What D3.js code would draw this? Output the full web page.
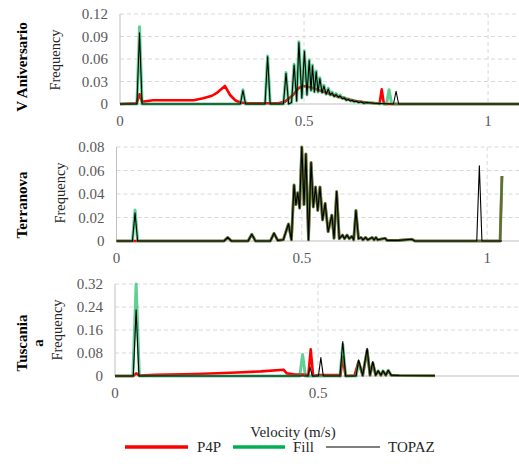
<!DOCTYPE html>
<html>
<head>
<meta charset="utf-8">
<script src="https://cdn.jsdelivr.net/npm/d3@7"></script>
</head>
<body style="margin:0;background:#fff">
<svg id="chart" width="519" height="464" font-family="Liberation Serif"></svg>
<script>
// ---- data: [velocity (m/s), frequency] ----
const seriesNames = ["P4P", "Fill", "TOPAZ"];
const rowNames = [["V Aniversario"], ["Terranova"], ["Tuscania", "a"]];

const vaYTicks = [0, 0.03, 0.06, 0.09, 0.12];
const trYTicks = [0, 0.02, 0.04, 0.06, 0.08];
const tuYTicks = [0, 0.08, 0.16, 0.24, 0.32];
const xTicks = [0, 0.5, 1];

const vaP4P = [[0,0],[0.045,0.001],[0.053,0.013],[0.06,0.003],[0.09,0.005],[0.15,0.005],[0.2,0.005],
  [0.226,0.0076],[0.25,0.011],[0.263,0.0147],[0.285,0.024],[0.299,0.012],[0.313,0.005],[0.326,0.002],
  [0.35,0.001],[0.43,0.001],[0.448,0.003],[0.47,0.012],[0.485,0.021],[0.497,0.024],[0.52,0.022],
  [0.549,0.017],[0.593,0.0098],[0.639,0.004],[0.674,0.0017],[0.7,0.001],[0.705,0],[0.711,0.0195],
  [0.717,0],[1.084,0]];
const vaFill = [[0,0],[0.046,0],[0.053,0.103],[0.06,0],[0.327,0],[0.334,0.019],[0.341,0],[0.394,0],
  [0.401,0.064],[0.408,0],[0.444,0],[0.451,0.042],[0.458,0],[0.466,0.002],[0.473,0.053],[0.48,0.004],
  [0.486,0.083],[0.494,0.008],[0.501,0.071],[0.508,0.012],[0.514,0.059],[0.519,0.018],[0.523,0.052],[0.528,0.016],
  [0.533,0.044],[0.538,0.016],[0.543,0.035],[0.549,0.015],[0.554,0.025],[0.56,0.013],[0.566,0.021],[0.571,0.012],
  [0.576,0.016],[0.582,0.01],[0.587,0.014],[0.593,0.009],[0.598,0.012],[0.604,0.007],[0.609,0.009],
  [0.615,0.005],[0.62,0.0067],[0.626,0.004],[0.631,0.005],[0.636,0.003],[0.641,0.004],[0.648,0.002],
  [0.655,0.003],[0.662,0.001],[0.67,0.002],[0.69,0.001],[0.724,0],[0.731,0.019],[0.738,0],[1.084,0]];
const vaTopaz = [[0,0],[0.046,0],[0.053,0.095],[0.06,0],[0.327,0],[0.334,0.018],[0.341,0],[0.394,0],
  [0.401,0.063],[0.408,0],[0.444,0],[0.451,0.041],[0.458,0],[0.466,0.002],[0.473,0.052],[0.48,0.004],
  [0.486,0.082],[0.494,0.008],[0.501,0.07],[0.508,0.012],[0.514,0.058],[0.519,0.018],[0.523,0.051],[0.528,0.016],
  [0.533,0.043],[0.538,0.016],[0.543,0.034],[0.549,0.015],[0.554,0.024],[0.56,0.013],[0.566,0.02],[0.571,0.012],
  [0.576,0.015],[0.582,0.01],[0.587,0.013],[0.593,0.009],[0.598,0.011],[0.604,0.007],[0.609,0.008],
  [0.615,0.005],[0.62,0.006],[0.626,0.004],[0.631,0.005],[0.636,0.003],[0.641,0.004],[0.648,0.002],
  [0.655,0.003],[0.662,0.001],[0.67,0.002],[0.69,0.001],[0.743,0],[0.75,0.017],[0.757,0],[1.084,0]];

// Terranova: the three series share the main comb
const trComb = [[0.29,0],[0.3,0.003],[0.31,0],[0.355,0],[0.365,0.0057],[0.375,0],[0.415,0],
  [0.425,0.0065],[0.435,0.0005],[0.45,0.001],[0.464,0.0145],[0.472,0.001],[0.479,0.0477],[0.484,0.031],
  [0.489,0.041],[0.494,0.028],[0.5,0.08],[0.506,0.031],[0.511,0.074],[0.518,0.001],[0.525,0.0667],
  [0.531,0.029],[0.537,0.046],[0.543,0.026],[0.549,0.046],[0.556,0.018],[0.563,0.032],[0.571,0.008],
  [0.581,0.022],[0.587,0.0023],[0.594,0.042],[0.601,0.002],[0.61,0.005],[0.615,0.002],[0.622,0.005],
  [0.628,0.002],[0.635,0.004],[0.64,0.001],[0.646,0.026],[0.653,0.002],[0.66,0.003],[0.665,0.001],
  [0.672,0.003],[0.678,0.001],[0.69,0.003],[0.695,0.001],[0.7,0.003],[0.705,0.001],[0.725,0.0023],
  [0.73,0.0005],[0.76,0.0005],[0.797,0.0015],[0.805,0]];
const trP4P = [[0,0],[0.06,0], ...trComb, [1.035,0],[1.04,0.0553]];
const trFill = [[0,0],[0.043,0],[0.05,0.0264],[0.057,0], ...trComb, [1.035,0],[1.04,0.0553]];
const trTopaz = [[0,0],[0.043,0],[0.05,0.024],[0.057,0], ...trComb, [0.972,0],[0.979,0.064],[0.986,0],[1.04,0]];

const tuP4P = [[0,0],[0.045,0],[0.052,0.009],[0.06,0.002],[0.1,0.004],[0.2,0.007],[0.3,0.012],
  [0.36,0.016],[0.415,0.022],[0.423,0.009],[0.44,0.006],[0.47,0.005],[0.476,0],[0.482,0.093],
  [0.488,0],[0.5,0.003],[0.55,0.003],[0.555,0],[0.561,0.067],[0.568,0],[0.59,0.002],[0.6,0.05],
  [0.61,0.002],[0.621,0.09],[0.628,0.003],[0.635,0.045],[0.642,0.003],[0.648,0.016],[0.655,0.003],
  [0.66,0.016],[0.667,0.003],[0.673,0.018],[0.68,0.003],[0.7,0.002],[0.788,0.001]];
const tuFill = [[0,0],[0.044,0],[0.052,0.32],[0.06,0],[0.455,0],[0.462,0.075],[0.469,0],[0.554,0],
  [0.561,0.11],[0.568,0],[0.594,0],[0.6,0.05],[0.61,0.002],[0.621,0.09],[0.628,0.003],[0.635,0.045],
  [0.642,0.003],[0.648,0.018],[0.655,0.003],[0.66,0.018],[0.667,0.003],[0.673,0.02],[0.68,0.003],
  [0.7,0.002],[0.788,0.001]];
const tuTopaz = [[0,0],[0.045,0],[0.052,0.23],[0.059,0],[0.475,0],[0.48,0.032],[0.486,0],[0.501,0],
  [0.507,0.064],[0.513,0],[0.554,0],[0.561,0.12],[0.568,0],[0.594,0],[0.6,0.056],[0.61,0.002],
  [0.621,0.096],[0.628,0.003],[0.635,0.05],[0.642,0.003],[0.648,0.018],[0.655,0.003],[0.66,0.018],
  [0.667,0.003],[0.673,0.02],[0.68,0.003],[0.7,0.002],[0.788,0.001]];

// ---- layout ----
const panels = [
  { rows: rowNames[0], yTicks: vaYTicks, fmt: d3.format(".2f"), xMax: 1.084, left: 120, top: 14, bottom: 104,
    series: [vaP4P, vaFill, vaTopaz], rowX: 22, rowY: 67, freqX: 55, freqY: 60 },
  { rows: rowNames[1], yTicks: trYTicks, fmt: d3.format(".2f"), xMax: 1.086, left: 116.5, top: 147, bottom: 241,
    series: [trP4P, trFill, trTopaz], rowX: 22, rowY: 205, freqX: 60, freqY: 193 },
  { rows: rowNames[2], yTicks: tuYTicks, fmt: d3.format(".2f"), xMax: 0.995, left: 115, top: 284, bottom: 376,
    series: [tuP4P, tuFill, tuTopaz], rowX: 22, rowY: 343, freqX: 57, freqY: 330 },
];
const right = 519;
const styles = [
  { stroke: "#ff0000", width: 2.6, opacity: 1 },
  { stroke: "#00b050", width: 3, opacity: 0.62 },
  { stroke: "#000000", width: 1.1, opacity: 1 },
];

const svg = d3.select("#chart");

function label(sel, size, fill, weight) {
  return sel.attr("font-family", "Liberation Serif").attr("font-size", size)
    .attr("fill", fill).attr("font-weight", weight || "normal");
}

panels.forEach((p) => {
  const x = d3.scaleLinear().domain([0, p.xMax]).range([p.left, right]);
  const y = d3.scaleLinear().domain([0, d3.max(p.yTicks)]).range([p.bottom, p.top]);
  const g = svg.append("g");
  const ticksIn = xTicks.filter((d) => d <= p.xMax);

  // grid
  const grid = g.append("g").attr("stroke", "#d9d9d9").attr("stroke-dasharray", "4 3");
  grid.selectAll("line.h").data(p.yTicks.filter((d) => d > 0)).enter().append("line")
    .attr("x1", p.left).attr("x2", right).attr("y1", (d) => y(d)).attr("y2", (d) => y(d));
  grid.selectAll("line.v").data(ticksIn.filter((d) => d > 0)).enter().append("line")
    .attr("x1", (d) => x(d)).attr("x2", (d) => x(d)).attr("y1", p.top).attr("y2", p.bottom);

  // axis lines
  g.append("line").attr("x1", p.left).attr("x2", p.left).attr("y1", p.top).attr("y2", p.bottom)
    .attr("stroke", "#bfbfbf");
  g.append("line").attr("x1", p.left).attr("x2", right).attr("y1", p.bottom).attr("y2", p.bottom)
    .attr("stroke", "#bfbfbf");

  // tick labels
  label(g.selectAll("text.yt").data(p.yTicks).enter().append("text"), 15, "#595959")
    .attr("text-anchor", "end")
    .attr("x", p.left - 12).attr("y", (d) => y(d)).attr("dy", "0.35em")
    .text((d) => (d === 0 ? "0" : p.fmt(d)));
  label(g.selectAll("text.xt").data(ticksIn).enter().append("text"), 15, "#595959")
    .attr("text-anchor", "middle")
    .attr("x", (d) => x(d)).attr("y", p.bottom + 22)
    .text((d) => d);

  // series
  const line = d3.line().x((d) => x(d[0])).y((d) => y(d[1]));
  p.series.forEach((data, i) => {
    g.append("path").datum(data).attr("d", line).attr("fill", "none")
      .attr("stroke", styles[i].stroke).attr("stroke-width", styles[i].width)
      .attr("stroke-opacity", styles[i].opacity).attr("stroke-linejoin", "round");
  });

  // row labels
  p.rows.forEach((r, k) => {
    label(svg.append("text"), 15, "#000", "bold").attr("text-anchor", "middle")
      .attr("transform", `translate(${p.rowX + k * 16},${p.rowY}) rotate(-90)`)
      .attr("dy", "0.35em").text(r);
  });
  label(svg.append("text"), 14.5, "#262626").attr("text-anchor", "middle")
    .attr("transform", `translate(${p.freqX},${p.freqY}) rotate(-90)`)
    .attr("dy", "0.35em").text("Frequency");
});

// x title + legend
label(svg.append("text"), 15, "#262626").attr("text-anchor", "middle")
  .attr("x", 293).attr("y", 437).text("Velocity (m/s)");

const legendItems = [
  { name: seriesNames[0], x1: 125, x2: 188, tx: 197, stroke: "#ff0000", w: 3.5 },
  { name: seriesNames[1], x1: 233, x2: 285, tx: 293, stroke: "#00b050", w: 3.5 },
  { name: seriesNames[2], x1: 326, x2: 380, tx: 388, stroke: "#000000", w: 1.2 },
];
const legend = svg.append("g").attr("class", "legend");
const rows = legend.selectAll("g").data(legendItems).enter().append("g");
rows.append("line").attr("x1", (d) => d.x1).attr("x2", (d) => d.x2).attr("y1", 447).attr("y2", 447)
  .attr("stroke", (d) => d.stroke).attr("stroke-width", (d) => d.w);
label(rows.append("text"), 15, "#262626").attr("x", (d) => d.tx).attr("y", 452).text((d) => d.name);
</script>
</body>
</html>
